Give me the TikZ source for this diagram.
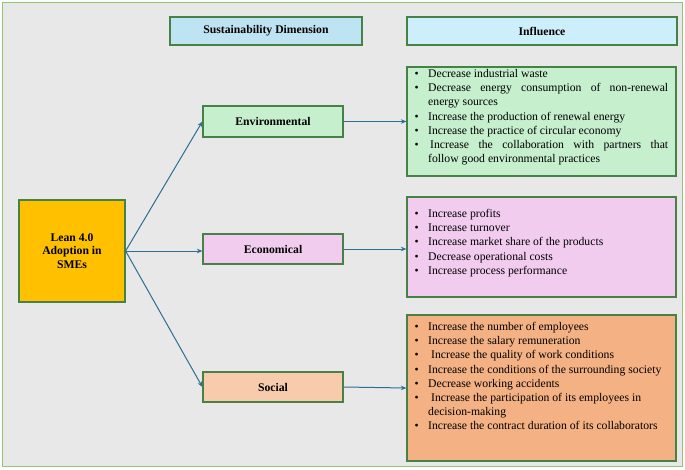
\documentclass[tikz,border=0pt]{standalone}
\usepackage{fontspec}
\setmainfont{Liberation Serif}
\usetikzlibrary{arrows.meta}
\definecolor{bgc}{RGB}{232,232,232}
\definecolor{framec}{RGB}{140,200,110}
\definecolor{bdr}{RGB}{70,130,70}
\definecolor{arrc}{RGB}{46,110,145}
\definecolor{sustc}{RGB}{190,227,243}
\definecolor{inflc}{RGB}{205,238,251}
\definecolor{leanc}{RGB}{255,192,0}
\definecolor{envc}{RGB}{198,239,206}
\definecolor{ecoc}{RGB}{242,204,239}
\definecolor{socc}{RGB}{248,203,173}
\definecolor{orc}{RGB}{244,177,131}
\newcommand\bitem{\par\hangindent=16pt\hangafter=1\noindent\makebox[16pt][l]{\hspace{2.5pt}\textbullet}\strut}
\begin{document}
\begin{tikzpicture}[x=1pt,y=-1pt,
  boxst/.style={draw=bdr,line width=1.2pt,inner sep=0pt},
  lbl/.style={font=\fontsize{11.7}{13.5}\selectfont\bfseries,align=center},
  listst/.style={anchor=north west,inner sep=0pt,text width=256pt,align=justify,font=\fontsize{11.7}{14.2}\selectfont},
  conn/.style={draw=arrc,line width=1pt,-{Stealth[length=5.5pt,width=4.5pt]}}]
\useasboundingbox (0,0) rectangle (685,469);
\fill[white] (0,0) rectangle (685,469);
\draw[framec,line width=1.5pt,fill=bgc] (2.5,2.5) rectangle (682.5,466.5);
% headers
\node[boxst,fill=sustc,minimum width=192pt,minimum height=28pt,lbl] (sust) at (266,31) {Sustainability Dimension};
\node[boxst,fill=inflc,minimum width=270pt,minimum height=28pt,lbl] (infl) at (542,31) {Influence};
% left
\node[boxst,fill=leanc,minimum width=106pt,minimum height=102pt,lbl] (lean) at (72,251) {Lean 4.0\\Adoption in\\SMEs};
% middle
\node[boxst,fill=envc,minimum width=140pt,minimum height=31pt,lbl] (env) at (273,121.5) {Environmental};
\node[boxst,fill=ecoc,minimum width=140pt,minimum height=30pt,lbl] (eco) at (273,249) {Economical};
\node[boxst,fill=socc,minimum width=140pt,minimum height=30pt,lbl] (soc) at (273,387) {Social};
% right
\node[boxst,fill=envc,minimum width=269pt,minimum height=109pt] (green) at (541.5,121.5) {};
\node[boxst,fill=ecoc,minimum width=269pt,minimum height=100pt] (pink) at (541.5,247) {};
\node[boxst,fill=orc,minimum width=269pt,minimum height=146pt] (orange) at (541.5,388) {};
\node[listst] (gtxt) at (412,63) {\bitem Decrease industrial waste
\bitem Decrease energy consumption of non-renewal\linebreak energy sources
\bitem Increase the production of renewal energy
\bitem Increase the practice of circular economy
\bitem\hspace{2pt}Increase the collaboration with partners that\linebreak follow good environmental practices\par};
\node[listst] (ptxt) at (412,203) {\bitem Increase profits
\bitem Increase turnover
\bitem Increase market share of the products
\bitem Decrease operational costs
\bitem Increase process performance\par};
\node[listst] (otxt) at (412,316) {\bitem Increase the number of employees
\bitem Increase the salary remuneration
\bitem\hspace{3pt}Increase the quality of work conditions
\bitem Increase the conditions of the surrounding society
\bitem Decrease working accidents
\bitem\hspace{3pt}Increase the participation of its employees in\newline decision-making
\bitem Increase the contract duration of its collaborators\par};
% connectors
\draw[conn] (lean.east) -- (env.west);
\draw[conn] (lean.east) -- (lean.east -| eco.west);
\draw[conn] (lean.east) -- (soc.west);
\draw[conn] (env.east) -- (env.east -| green.west);
\draw[conn] (eco.east) -- (eco.east -| pink.west);
\draw[conn] (soc.east) -- (orange.west);
\end{tikzpicture}
\end{document}
